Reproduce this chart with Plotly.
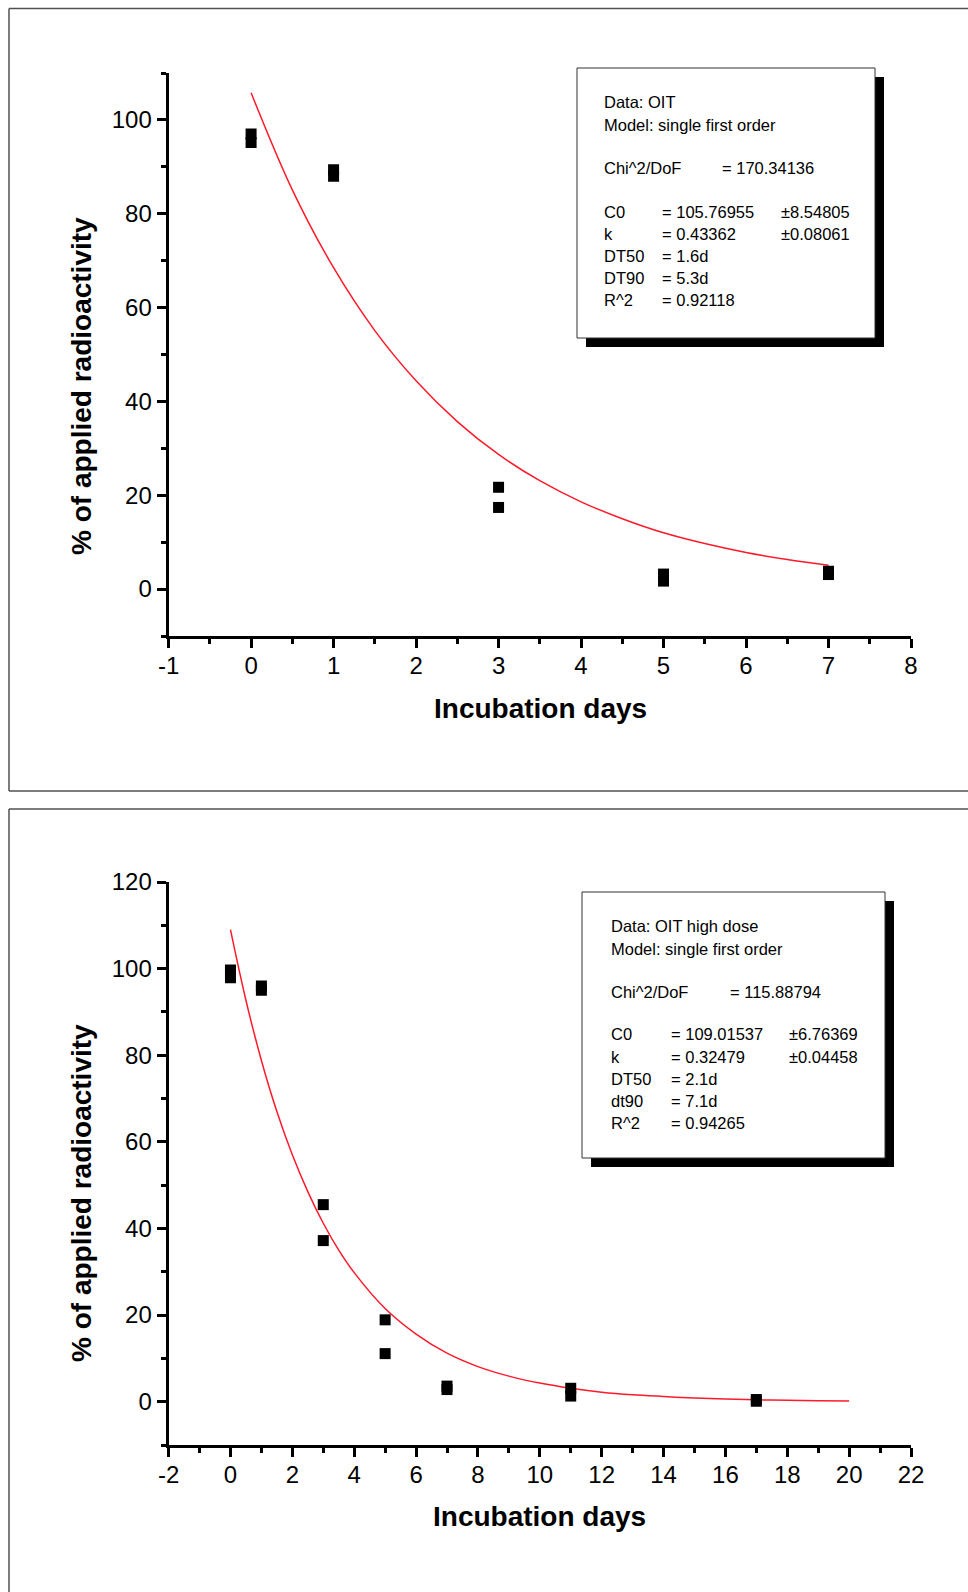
import plotly.graph_objects as go

W, H = 968, 1592

# ---------------- data ----------------
# Panel A: OIT
days_a = [0, 0, 1, 1, 3, 3, 5, 5, 7, 7]
pct_a = [97.0, 95.2, 89.4, 88.0, 21.7, 17.4, 3.2, 1.7, 3.8, 3.1]
fit_days_a = [0, 0.5, 1, 1.5, 2, 2.5, 3, 3.5, 4, 4.5, 5, 5.5, 6, 6.5, 7]
fit_pct_a = [105.8, 85.1, 68.5, 55.1, 44.4, 35.7, 28.7, 23.1, 18.6, 15.0,
             12.0, 9.7, 7.8, 6.3, 5.1]
xticks_a = [-1, 0, 1, 2, 3, 4, 5, 6, 7, 8]
xticktext_a = ["-1", "0", "1", "2", "3", "4", "5", "6", "7", "8"]
yticks_a = [0, 20, 40, 60, 80, 100]
info_a_head = ["Data: OIT", "Model: single first order"]
info_a_chi = ("Chi^2/DoF", "= 170.34136")
info_a_rows = [("C0", "= 105.76955", "±8.54805"),
               ("k", "= 0.43362", "±0.08061"),
               ("DT50", "= 1.6d", ""),
               ("DT90", "= 5.3d", ""),
               ("R^2", "= 0.92118", "")]

# Panel B: OIT high dose
days_b = [0, 0, 1, 1, 3, 3, 5, 5, 7, 7, 11, 11, 17, 17]
pct_b = [99.7, 97.9, 96.0, 95.0, 45.5, 37.2, 18.9, 11.1, 3.6, 2.8, 3.1, 1.3, 0.5, 0.1]
fit_days_b = [0, 0.5, 1, 1.5, 2, 2.5, 3, 3.5, 4, 5, 6, 7, 8, 9, 10, 11, 12,
              13, 14, 15, 16, 17, 18, 19, 20]
fit_pct_b = [109.0, 92.7, 78.8, 67.0, 57.0, 48.5, 41.2, 35.0, 29.8, 21.5, 15.6,
             11.2, 8.1, 5.9, 4.3, 3.1, 2.2, 1.6, 1.2, 0.84, 0.61, 0.44, 0.32,
             0.23, 0.17]
xticks_b = [-2, 0, 2, 4, 6, 8, 10, 12, 14, 16, 18, 20, 22]
xticktext_b = ["-2", "0", "2", "4", "6", "8", "10", "12", "14", "16", "18", "20", "22"]
yticks_b = [0, 20, 40, 60, 80, 100, 120]
info_b_head = ["Data: OIT high dose", "Model: single first order"]
info_b_chi = ("Chi^2/DoF", "= 115.88794")
info_b_rows = [("C0", "= 109.01537", "±6.76369"),
               ("k", "= 0.32479", "±0.04458"),
               ("DT50", "= 2.1d", ""),
               ("dt90", "= 7.1d", ""),
               ("R^2", "= 0.94265", "")]

x_title = "Incubation days"
y_title = "% of applied radioactivity"

# ---------------- helpers ----------------
def px(x):
    return x / W

def py(y):
    return 1 - y / H

FONT = "Liberation Sans, Arial, sans-serif"

fig = go.Figure()

line_style = dict(color="#ff1a2a", width=1.5, shape="spline")
mk = dict(symbol="square", size=11, color="black")
fig.add_trace(go.Scatter(x=fit_days_a, y=fit_pct_a, mode="lines", line=line_style,
                         xaxis="x", yaxis="y", showlegend=False, hoverinfo="skip"))
fig.add_trace(go.Scatter(x=days_a, y=pct_a, mode="markers", marker=mk,
                         xaxis="x", yaxis="y", showlegend=False))
fig.add_trace(go.Scatter(x=fit_days_b, y=fit_pct_b, mode="lines", line=line_style,
                         xaxis="x2", yaxis="y2", showlegend=False, hoverinfo="skip"))
fig.add_trace(go.Scatter(x=days_b, y=pct_b, mode="markers", marker=mk,
                         xaxis="x2", yaxis="y2", showlegend=False))

tickfont = dict(family=FONT, size=24, color="black")

def xax(rng, tv, tt, mdtick, anchor):
    return dict(range=rng, tickmode="array", tickvals=tv, ticktext=tt,
                showline=True, linewidth=3, linecolor="black",
                ticks="outside", ticklen=9, tickwidth=3, tickcolor="black",
                showgrid=False, zeroline=False, tickfont=tickfont, anchor=anchor,
                ticklabelstandoff=-3, automargin=False,
                domain=[px(168.6), px(911)],
                minor=dict(ticks="outside", ticklen=5, tickwidth=3, tickcolor="black",
                           tickmode="linear", tick0=0, dtick=mdtick, showgrid=False))

def yax(rng, tv, dom, anchor):
    return dict(range=rng, tickmode="array", tickvals=tv,
                showline=True, linewidth=3, linecolor="black",
                ticks="outside", ticklen=9, tickwidth=3, tickcolor="black",
                showgrid=False, zeroline=False, tickfont=tickfont, anchor=anchor,
                domain=dom, automargin=False,
                minor=dict(ticks="outside", ticklen=5, tickwidth=3, tickcolor="black",
                           tickmode="linear", tick0=0, dtick=10, showgrid=False))

shapes = []
annotations = []

FRAME = dict(color="#505050", width=1.5)

def hline(x0, x1, y):
    shapes.append(dict(type="line", xref="paper", yref="paper", x0=px(x0), x1=px(x1),
                       y0=py(y), y1=py(y), line=FRAME, layer="below"))

def vline(x, y0, y1):
    shapes.append(dict(type="line", xref="paper", yref="paper", x0=px(x), x1=px(x),
                       y0=py(y0), y1=py(y1), line=FRAME, layer="below"))

# panel frames (right side / bottom of second panel run off the page)
hline(9, W, 8.5)
hline(9, W, 791)
vline(9, 8.5, 791)
hline(9, W, 809)
vline(9, 809, H)

def info_box(x0, y0, x1, y1, tx, head, chi, rows, rows_y, eq_x, chi_eq_x, pm_x):
    shapes.append(dict(type="rect", xref="paper", yref="paper", x0=px(x0 + 9), x1=px(x1 + 9),
                       y0=py(y1 + 9), y1=py(y0 + 9), line=dict(width=0), fillcolor="black"))
    shapes.append(dict(type="rect", xref="paper", yref="paper", x0=px(x0), x1=px(x1),
                       y0=py(y1), y1=py(y0), line=dict(color="#333333", width=1), fillcolor="white"))
    f = dict(family=FONT, size=16.5, color="black")

    def txt(x, y, s):
        annotations.append(dict(xref="paper", yref="paper", x=px(x), y=py(y), text=s, showarrow=False,
                                xanchor="left", yanchor="middle", font=f))
    txt(tx, rows_y[0], head[0])
    txt(tx, rows_y[1], head[1])
    txt(tx, rows_y[2], chi[0])
    txt(chi_eq_x, rows_y[2], chi[1])
    for i, (a, b, c) in enumerate(rows):
        yy = rows_y[3 + i]
        txt(tx, yy, a)
        txt(eq_x, yy, b)
        if c:
            txt(pm_x, yy, c)

info_box(577, 68, 875, 338, 602, info_a_head, info_a_chi, info_a_rows,
         [102, 125, 168, 212, 234, 256, 278, 300], 660, 720, 779)
info_box(582, 892, 885, 1158, 609, info_b_head, info_b_chi, info_b_rows,
         [926, 949, 992, 1034, 1057, 1079, 1101, 1123], 669, 728, 787)

titlefont = dict(family=FONT, size=28, color="black")
for (tx, ty) in [(540, 708), (539, 1516)]:
    annotations.append(dict(xref="paper", yref="paper", x=px(tx), y=py(ty), text="<b>" + x_title + "</b>",
                            showarrow=False, xanchor="center", yanchor="middle", font=titlefont))
for (tx, ty) in [(81, 386), (81, 1193)]:
    annotations.append(dict(xref="paper", yref="paper", x=px(tx), y=py(ty), text="<b>" + y_title + "</b>",
                            showarrow=False, xanchor="center", yanchor="middle", textangle=-90,
                            font=titlefont))

fig.update_layout(
    width=W, height=H, autosize=False,
    margin=dict(l=0, r=0, t=0, b=0, pad=0),
    paper_bgcolor="white", plot_bgcolor="rgba(0,0,0,0)",
    xaxis=xax([-1, 8], xticks_a, xticktext_a, 0.5, "y"),
    yaxis=yax([-10, 110], yticks_a, [py(636), py(73)], "x"),
    xaxis2=xax([-2, 22], xticks_b, xticktext_b, 1, "y2"),
    yaxis2=yax([-10, 120], yticks_b, [py(1445), py(882)], "x2"),
    shapes=shapes,
    annotations=annotations,
)

fig.write_html(
    "out.html",
    config={"displayModeBar": False},
    post_script="document.body.style.margin='0';document.body.style.overflow='hidden';"
                "document.documentElement.style.overflow='hidden';",
)
